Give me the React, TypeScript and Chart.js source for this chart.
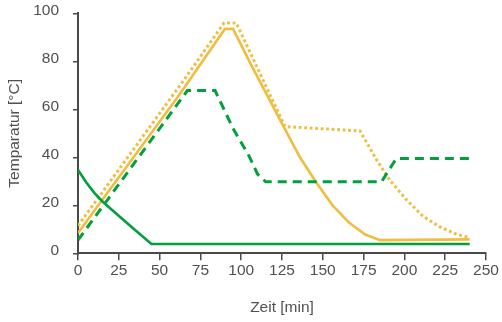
import React, { useEffect, useRef } from "react";
import { Chart, registerables } from "chart.js";

Chart.register(...registerables);

// Time axis [min] and temperatures [°C] for each curve
const yellowSolidT = [0, 62, 90, 95, 105, 125, 136, 146, 156, 166, 176, 185, 240];
const yellowSolidV = [8.5, 66, 93.5, 93.5, 80, 54, 40, 29.5, 20, 12.8, 7.8, 5.5, 5.8];

const yellowDotT = [0, 65.6, 89.5, 97, 126.8, 172.8, 183, 191, 201.4, 211.6, 221.8, 232, 240];
const yellowDotV = [11.5, 72.9, 96, 96, 52.8, 51, 38.9, 30.5, 22.2, 15.3, 11, 7.9, 6.6];

const greenDashT = [0, 67, 84, 95, 105, 110, 115, 186, 195, 240];
const greenDashV = [5.5, 67.8, 67.8, 52, 40.3, 33, 29.8, 29.8, 39.5, 39.5];

const greenSolidT = [0, 5, 10, 15, 23.7, 33.9, 45, 240];
const greenSolidV = [34.7, 29.6, 25.2, 21.6, 16.4, 10.3, 3.9, 3.9];

const xTicks = [0, 25, 50, 75, 100, 125, 150, 175, 200, 225, 250];
const yTicks = [0, 20, 40, 60, 80, 100];

const xTitle = "Zeit [min]";
const yTitle = "Temparatur [°C]";

const YELLOW = "#EFBE41";
const GREEN = "#00A03E";
const AXIS = "#4a4a4a";
const TEXT = "#505050";

const toPts = (t: number[], v: number[]) => t.map((x, i) => ({ x, y: v[i] }));

export default function App() {
  const ref = useRef<HTMLCanvasElement | null>(null);

  useEffect(() => {
    if (!ref.current) return;
    const font = { family: "'Liberation Sans', Arial, sans-serif", size: 15.5 };
    const chart = new Chart(ref.current, {
      type: "line",
      data: {
        datasets: [
          {
            data: toPts(greenSolidT, greenSolidV),
            borderColor: GREEN,
            borderWidth: 2.6,
            pointRadius: 0,
            tension: 0,
          },
          {
            data: toPts(greenDashT, greenDashV),
            borderColor: GREEN,
            borderWidth: 3,
            borderDash: [9, 6],
            pointRadius: 0,
            tension: 0,
          },
          {
            data: toPts(yellowSolidT, yellowSolidV),
            borderColor: YELLOW,
            borderWidth: 2.6,
            pointRadius: 0,
            tension: 0,
          },
          {
            data: toPts(yellowDotT, yellowDotV),
            borderColor: YELLOW,
            borderWidth: 3,
            borderDash: [2.8, 2.7],
            pointRadius: 0,
            tension: 0,
          },
        ],
      },
      options: {
        animation: false,
        responsive: false,
        events: [],
        layout: { padding: { top: 13.3, right: 16, bottom: 0, left: 0 } },
        plugins: { legend: { display: false }, tooltip: { enabled: false } },
        scales: {
          x: {
            type: "linear",
            min: 0,
            max: 250,
            afterFit: (s: any) => {
              s.height = 68.7;
              s.paddingLeft = 0;
              s.paddingRight = 0;
            },
            afterBuildTicks: (s: any) => {
              s.ticks = xTicks.map((v) => ({ value: v }));
            },
            grid: {
              drawOnChartArea: false,
              drawTicks: true,
              tickLength: 7,
              color: AXIS,
              lineWidth: 1.5,
            },
            border: { display: true, color: AXIS, width: 2 },
            ticks: { color: TEXT, font, padding: 1, maxRotation: 0, autoSkip: false },
            title: {
              display: true,
              text: xTitle,
              color: TEXT,
              font,
              padding: { top: 0, bottom: 5.2 },
            },
          },
          y: {
            type: "linear",
            min: 0,
            max: 100,
            afterFit: (s: any) => {
              s.width = 78;
              s.paddingTop = 0;
              s.paddingBottom = 0;
            },
            afterBuildTicks: (s: any) => {
              s.ticks = yTicks.map((v) => ({ value: v }));
            },
            grid: {
              drawOnChartArea: false,
              drawTicks: true,
              tickLength: 5,
              color: AXIS,
              lineWidth: 1.5,
            },
            border: { display: true, color: AXIS, width: 2 },
            ticks: { color: TEXT, font, padding: 14, labelOffset: -2.5, autoSkip: false },
            title: {
              display: true,
              text: yTitle,
              color: TEXT,
              font,
              padding: { top: 5.2, bottom: 0 },
            },
          },
        },
      },
    } as any);
    return () => chart.destroy();
  }, []);

  return (
    <div style={{ position: "fixed", left: 0, top: 0, width: 502, height: 322, background: "#fff" }}>
      <canvas ref={ref} width={502} height={322} style={{ width: 502, height: 322, display: "block" }} />
    </div>
  );
}
